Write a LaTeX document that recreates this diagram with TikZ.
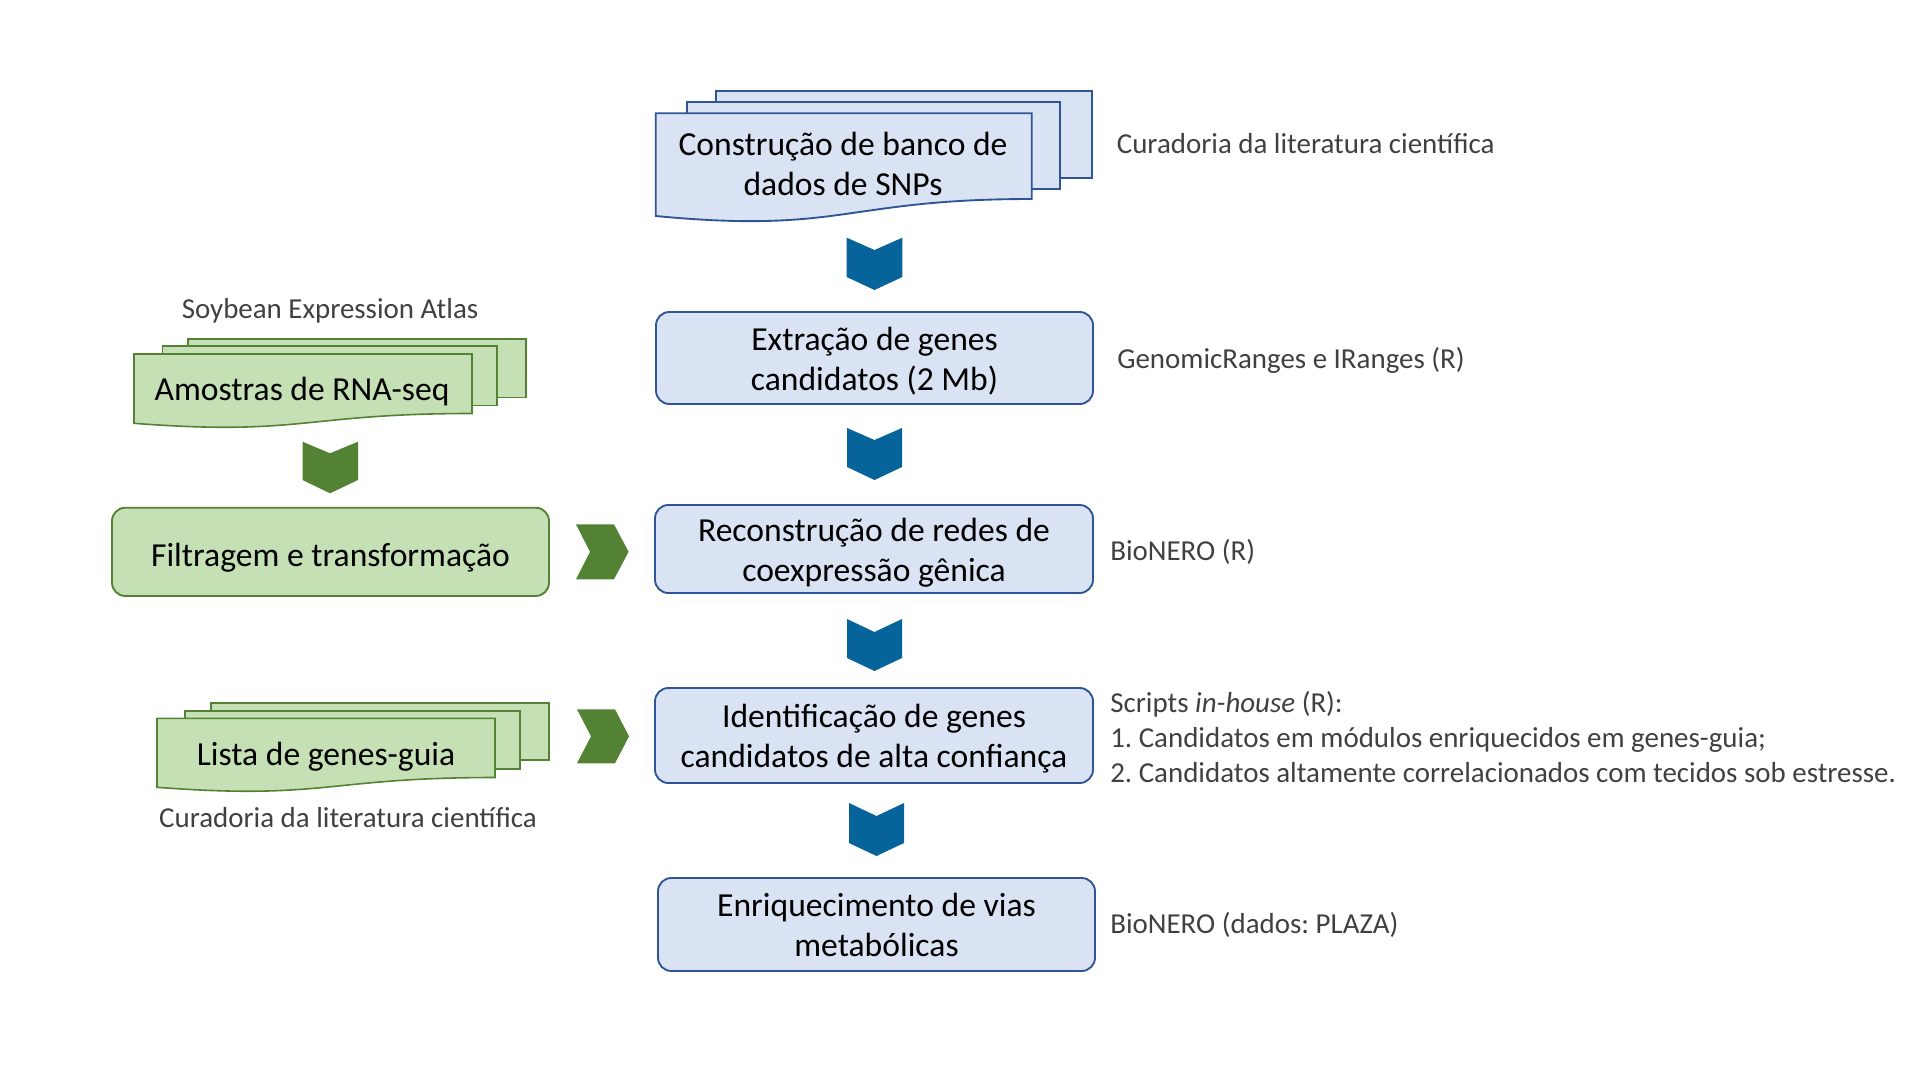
\documentclass[tikz,border=0pt]{standalone}
\usepackage{fontspec}
\setmainfont{Carlito}
\frenchspacing
\definecolor{bfill}{HTML}{DAE3F3}
\definecolor{bline}{HTML}{2F5597}
\definecolor{gfill}{HTML}{C5E0B4}
\definecolor{gline}{HTML}{548235}
\definecolor{chevb}{RGB}{6,100,155}
\definecolor{chevg}{HTML}{548235}
\definecolor{sidegray}{HTML}{404040}
\newcommand{\mainfnt}{\fontsize{25.2}{30}\selectfont}
\newcommand{\sidefnt}{\fontsize{21.7}{26.25}\selectfont}
\newcommand{\tstrut}{\rule{0pt}{27pt}}
\begin{document}
\begin{tikzpicture}[x=0.75pt,y=-0.75pt,
  bluebox/.style={draw=bline,fill=bfill,line width=1.4pt,rounded corners=10pt,inner sep=0pt,align=center,font=\mainfnt},
  greenbox/.style={draw=gline,fill=gfill,line width=1.4pt,rounded corners=10pt,inner sep=0pt,align=center,font=\mainfnt},
  bluedoc/.style={draw=bline,fill=bfill,line width=1.4pt},
  greendoc/.style={draw=gline,fill=gfill,line width=1.2pt},
  doctext/.style={inner sep=0pt,align=center,font=\mainfnt},
  sidelabel/.style={inner sep=0pt,text=sidegray,font=\sidefnt,align=left},
  chevblue/.style={fill=chevb},
  chevgreen/.style={fill=chevg}]
\useasboundingbox (0,0) rectangle (1920,1081);

% ---- top multi-document
\draw[bluedoc] (716,91) rectangle (1092.3,177.7);
\draw[bluedoc] (686.7,102.3) rectangle (1060,189);
\draw[bluedoc] (655.7,113.3) -- (1031.7,113.3) -- (1031.7,199)
  .. controls (843.7,199) and (843.7,234) .. (655.7,216) -- cycle;
\node[doctext] (doc1) at (843,167) {\strut Construção de banco de\\\strut dados de SNPs};

% ---- main boxes
\node[bluebox,minimum width=327.75pt,minimum height=69pt] (extr) at (874.5,358)
  {\tstrut Extração de genes\\\strut candidatos (2 Mb)};
\node[bluebox,minimum width=328.5pt,minimum height=66pt] (recon) at (874,549)
  {\tstrut Reconstrução de redes de\\\strut coexpressão gênica};
\node[bluebox,minimum width=328.5pt,minimum height=71.25pt] (ident) at (874,735.5)
  {\tstrut Identificação de genes\\\strut candidatos de alta confiança};
\node[bluebox,minimum width=327.75pt,minimum height=69.75pt] (enriq) at (876.5,924.5)
  {\tstrut Enriquecimento de vias\\\strut metabólicas};

% ---- blue chevrons
\fill[chevblue] (846.7,237.7) -- (874.5,250) -- (902.3,237.7) -- (902.3,277) -- (874.5,290) -- (846.7,277) -- cycle;
\fill[chevblue] (847,428) -- (874.5,440) -- (902,428) -- (902,467) -- (874.5,480) -- (847,467) -- cycle;
\fill[chevblue] (847,619) -- (874.5,632) -- (902,619) -- (902,658) -- (874.5,671) -- (847,658) -- cycle;
\fill[chevblue] (849,803) -- (876.5,816) -- (904,803) -- (904,843) -- (876.5,856) -- (849,843) -- cycle;

% ---- right labels
\node[sidelabel,anchor=west] (lab1) at (1116.6,146.3) {\strut Curadoria da literatura científica};
\node[sidelabel,anchor=west] (lab2) at (1117,361) {\strut GenomicRanges e IRanges (R)};
\node[sidelabel,anchor=west] (lab3) at (1110,553) {\strut BioNERO (R)};
\node[sidelabel,anchor=west] (lab4) at (1110,740)
  {\strut Scripts \textit{in-house} (R):\\\strut 1. Candidatos em módulos enriquecidos em genes-guia;\\\strut 2. Candidatos altamente correlacionados com tecidos sob estresse.};
\node[sidelabel,anchor=west] (lab5) at (1110,926) {\strut BioNERO (dados: PLAZA)};

% ---- left: RNA-seq samples
\node[sidelabel] (soy) at (330,311) {\strut Soybean Expression Atlas};
\draw[greendoc] (188,338.7) rectangle (526,397.3);
\draw[greendoc] (162.5,346) rectangle (497,405.3);
\draw[greendoc] (134,354) -- (472,354) -- (472,413.5)
  .. controls (303,413.5) and (303,436.2) .. (134,423.3) -- cycle;
\node[doctext] (amostras) at (302,392) {\strut Amostras de RNA-seq};

\fill[chevgreen] (302.5,441.7) -- (330,453.3) -- (358,441.7) -- (358,480) -- (330,493.3) -- (302.5,480) -- cycle;

\node[greenbox,minimum width=327.75pt,minimum height=66.2pt] (filt) at (330.5,551.85)
  {\tstrut Filtragem e transformação};

\fill[chevgreen] (576,524.3) -- (614,524.3) -- (628.6,551.8) -- (614,579.3) -- (576,579.3) -- (590,551.8) -- cycle;

% ---- left: guide genes list
\draw[greendoc] (211,702.7) rectangle (549,760);
\draw[greendoc] (185,710.7) rectangle (520,768.7);
\draw[greendoc] (157,718.3) -- (495,718.3) -- (495,777.5)
  .. controls (326,777.5) and (326,800.1) .. (157,787.3) -- cycle;
\node[doctext] (lista) at (326,757) {\strut Lista de genes-guia};
\node[sidelabel] (cur2) at (348,820.5) {\strut Curadoria da literatura científica};

\fill[chevgreen] (577,709.3) -- (615,709.3) -- (629,736.3) -- (615,763.3) -- (577,763.3) -- (591,736.3) -- cycle;
\end{tikzpicture}
\end{document}
